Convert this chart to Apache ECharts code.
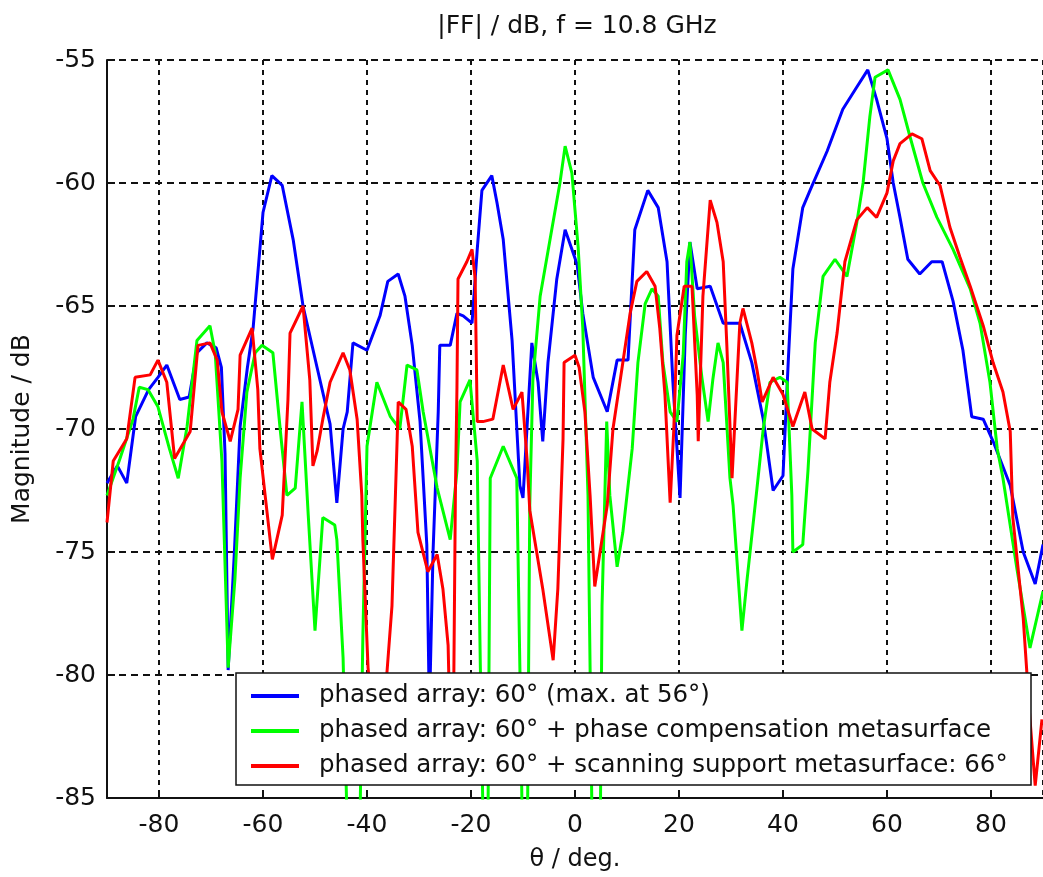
<!DOCTYPE html>
<html>
<head>
<meta charset="utf-8">
<script src="https://cdn.jsdelivr.net/npm/echarts@6/dist/echarts.min.js"></script>
<style>
html,body{margin:0;padding:0;background:#fff;}
#chart{width:1043px;height:877px;}
</style>
</head>
<body>
<div id="chart"></div>
<script>
var titleText = "|FF| / dB, f = 10.8 GHz";
var xName = "θ / deg.";
var yName = "Magnitude / dB";
var seriesNames = [
  "phased array: 60° (max. at 56°)",
  "phased array: 60° + phase compensation metasurface",
  "phased array: 60° + scanning support metasurface: 66°"
];
var yTicks = [-85, -80, -75, -70, -65, -60, -55];

var thetaBlue = [-90,-88,-86.2,-84.5,-82,-80.2,-78.5,-76,-74.2,-72.7,-70.8,-69,-68,-67.3,-66.7,-65.5,-64.4,-63,-61.9,-60,-58.3,-56.3,-54.2,-52.3,-49.6,-47.1,-45.8,-44.6,-43.8,-42.7,-40,-37.5,-36,-34,-32.7,-31.3,-29.8,-28.5,-28,-27.3,-26.3,-26,-24,-22.7,-21.5,-19.8,-18.8,-17.9,-16,-15,-13.8,-12.1,-10.6,-10,-8.3,-7.1,-6.2,-5.2,-3.5,-1.9,0.4,1.5,3.5,6.2,8.1,10.2,11.5,14,16,17.7,18.8,20.2,21.2,22.1,23.5,26,28.5,31.7,34,36.2,38.1,40,41,41.9,43.8,45.2,48.5,51.5,54.2,56.3,58,60,61.2,62.5,64,66.3,68.6,70.6,72.7,74.6,76.3,78.5,80.4,83.7,86.2,88.5,90];
var magBlue = [-72.2,-71.5,-72.2,-69.5,-68.4,-67.9,-67.4,-68.8,-68.7,-66.9,-66.5,-66.7,-67.5,-71,-79.8,-75,-69.9,-67.5,-65.9,-61.2,-59.7,-60.1,-62.3,-65.0,-67.5,-69.8,-73.0,-70,-69.3,-66.5,-66.8,-65.4,-64.0,-63.7,-64.6,-66.6,-69.7,-74.7,-81.5,-75,-69.3,-66.6,-66.6,-65.3,-65.4,-65.7,-62.7,-60.3,-59.7,-60.8,-62.3,-66.4,-72.3,-72.8,-66.5,-68.1,-70.5,-67.3,-63.9,-61.9,-63.3,-65.3,-67.9,-69.3,-67.2,-67.2,-61.9,-60.3,-61.0,-63.2,-68,-72.8,-66.2,-62.4,-64.3,-64.2,-65.7,-65.7,-67.3,-69.6,-72.5,-71.9,-67.3,-63.5,-61,-60.3,-58.7,-57,-56.1,-55.4,-56.6,-58.2,-60,-61.4,-63.1,-63.7,-63.2,-63.2,-64.8,-66.8,-69.5,-69.6,-70.5,-72.3,-75,-76.3,-74.7];

var thetaGreen = [-90,-87.5,-85,-83.8,-82.1,-80.2,-78,-76.3,-74.6,-72.7,-70.2,-69.2,-67.9,-66.7,-65.4,-64.4,-63.1,-61.5,-60.2,-58.1,-56.7,-55.4,-53.8,-52.5,-51.3,-50,-48.5,-46.2,-45.8,-44.6,-43.6,-41.5,-40.8,-40,-38.1,-35.5,-33.7,-32.3,-30.4,-29.2,-26.5,-24,-22.7,-22.1,-20.2,-18.8,-18.2,-17.5,-16.8,-16.3,-13.8,-11.2,-10.6,-10,-9.2,-8.7,-8.1,-6.7,-4.8,-2.9,-1.9,-0.6,0.6,1.5,2.5,2.9,3.4,4.8,5.2,6.1,6.7,8.1,9.2,11,12.1,13.5,14.8,16,16.9,18.3,19.6,20.8,21.5,22.1,23,24.4,25.6,26.5,27.5,28.5,29.8,30.4,32.1,33.1,35,36.2,37.5,39.4,40.8,41.7,41.9,43.8,44.8,46.2,47.7,50,52.3,54.2,55.4,56.7,57.7,60.2,62.5,64.4,66.9,69.6,72.7,76,77.9,79.8,81.2,82.3,85,87.5,90];
var magGreen = [-72.7,-71.2,-69.6,-68.3,-68.4,-69.1,-70.8,-72.0,-69.9,-66.4,-65.8,-66.9,-71.3,-79.7,-76.1,-72,-68.5,-66.9,-66.6,-66.9,-70,-72.7,-72.4,-68.9,-73.5,-78.2,-73.6,-73.9,-74.5,-79.3,-88,-88,-78.5,-70.7,-68.1,-69.5,-70,-67.4,-67.6,-69.3,-72.4,-74.5,-71.7,-68.9,-68,-71.3,-79.7,-88,-88,-72,-70.7,-72,-79.7,-88,-88,-73.1,-68,-64.6,-62.3,-60,-58.5,-59.6,-62.6,-65.9,-72.7,-79.7,-88,-88,-77.2,-69.7,-72.7,-75.6,-74.2,-70.8,-67.3,-64.9,-64.3,-64.6,-67.3,-69.3,-69.7,-67,-63.2,-62.4,-65.4,-67.9,-69.7,-68,-66.5,-67.3,-72,-73.1,-78.2,-76.1,-72.4,-70,-68.1,-67.9,-68.1,-72.7,-75,-74.7,-71.7,-66.5,-63.8,-63.1,-63.8,-61.6,-60,-57.3,-55.7,-55.4,-56.6,-58.1,-60,-61.4,-62.7,-64.3,-65.7,-68.1,-70.8,-72,-75.7,-78.9,-76.6];

var thetaRed = [-90,-88.8,-86.2,-84.6,-81.7,-80.2,-78.5,-77,-74,-72.5,-70.2,-68.8,-67.9,-66.3,-64.8,-64.4,-62.1,-61,-60.6,-58.2,-56.3,-55.2,-54.8,-52.3,-51,-50.4,-49.6,-48.5,-47.1,-44.6,-43.3,-41.9,-41,-40.8,-39.8,-38.5,-36.2,-35.2,-34.2,-34,-32.5,-31.3,-30.2,-28.3,-26.5,-25.4,-24.4,-24,-23.3,-23,-22.7,-22.5,-20.8,-19.8,-19.2,-18.8,-17.7,-15.8,-13.8,-11.9,-10.2,-9.2,-8.7,-6.2,-4.2,-3.3,-2.3,-2.1,0,0.8,1.9,2.9,3.8,6.2,7.3,9.2,10.6,11.9,13.8,15.4,16.3,17.3,18.3,19,19.6,21,22.5,23.5,23.7,24.6,26,27.3,28.5,29.2,30.2,31.7,32.3,34,35,36,38.1,40,41.9,44.2,45.6,48.1,49,50.4,51.9,54.2,56.2,58,60,61.2,62.5,64.8,66.7,68.3,70.2,72.1,74,76,78.5,80.4,82.3,83.7,84.2,86.2,87.5,88.5,89.8];
var magRed = [-73.8,-71.3,-70.4,-67.9,-67.8,-67.2,-68.1,-71.2,-70.1,-66.6,-66.5,-67.2,-69.3,-70.5,-69.2,-67,-65.9,-68.4,-70.8,-75.3,-73.5,-68.8,-66.1,-65,-68,-71.5,-70.9,-69.6,-68.1,-66.9,-67.6,-69.6,-72.7,-74.5,-79.7,-83,-80,-77.2,-70.4,-68.9,-69.2,-70.7,-74.2,-75.8,-75.1,-76.5,-78.8,-82.5,-80,-72.6,-68.3,-63.9,-63.2,-62.7,-63.9,-69.7,-69.7,-69.6,-67.4,-69.2,-68.5,-71.3,-73.3,-76.5,-79.4,-76.5,-70.4,-67.3,-67,-67.5,-69.3,-72.7,-76.4,-73.1,-70,-67.3,-65.3,-64,-63.6,-64.2,-65.9,-68.6,-73,-70,-66.2,-64.2,-64.2,-68.6,-70.5,-64.6,-60.7,-61.6,-63.2,-66.6,-72,-65.7,-65.1,-66.5,-67.6,-68.9,-67.9,-68.6,-69.9,-68.5,-70,-70.4,-68.1,-66.1,-63.2,-61.5,-61,-61.4,-60.4,-59.1,-58.4,-58,-58.2,-59.5,-60.1,-61.8,-63,-64.2,-65.8,-67.3,-68.5,-70.1,-73.6,-77.7,-81.8,-84.5,-81.8];

function pairs(xs, ys) {
  var out = [];
  for (var i = 0; i < xs.length; i++) out.push([xs[i], ys[i]]);
  return out;
}

var colors = ['#0000ff', '#00ff00', '#ff0000'];
var seriesData = [pairs(thetaBlue, magBlue), pairs(thetaGreen, magGreen), pairs(thetaRed, magRed)];

var FONT = 'DejaVu Sans';
var chart = echarts.init(document.getElementById('chart'), null, {renderer: 'canvas'});

var option = {
  backgroundColor: '#ffffff',
  animation: false,
  title: {
    text: titleText,
    left: 572,
    top: 9,
    textAlign: 'center',
    textStyle: {fontFamily: FONT, fontSize: 25, fontWeight: 'normal', color: '#111'}
  },
  grid: {left: 107, top: 60, right: 0, bottom: 77, containLabel: false},
  legend: {
    orient: 'vertical',
    left: 236,
    top: 673,
    z: 20,
    padding: [9, 12, 5, 15],
    itemGap: 7,
    itemWidth: 48,
    itemHeight: 4,
    itemTextGap: 5,
    icon: 'rect',
    backgroundColor: '#ffffff',
    borderColor: '#111',
    borderWidth: 1.5,
    borderRadius: 0,
    data: seriesNames,
    textStyle: {fontFamily: FONT, fontSize: 24.5, color: '#111', lineHeight: 28, width: 700, overflow: 'none', padding: [0, 0, 0, 15]}
  },
  xAxis: {
    type: 'value',
    min: -90,
    max: 90,
    splitNumber: 9,
    name: xName,
    nameLocation: 'middle',
    nameGap: 50,
    nameTextStyle: {fontFamily: FONT, fontSize: 24, color: '#111'},
    axisLine: {show: true, onZero: false, lineStyle: {color: '#111', width: 2}},
    axisTick: {show: true, inside: true, length: 8, lineStyle: {color: '#111', width: 2}},
    axisLabel: {fontFamily: FONT, fontSize: 25, color: '#111', margin: 15, showMinLabel: false, showMaxLabel: false},
    splitLine: {show: true, lineStyle: {color: '#111', width: 2, type: [5, 5]}}
  },
  yAxis: {
    type: 'value',
    min: -85,
    max: -55,
    interval: 5,
    name: yName,
    nameLocation: 'middle',
    nameGap: 72,
    nameRotate: 90,
    nameTextStyle: {fontFamily: FONT, fontSize: 25, color: '#111'},
    axisLine: {show: true, onZero: false, lineStyle: {color: '#111', width: 2}},
    axisTick: {show: true, inside: true, length: 8, lineStyle: {color: '#111', width: 2}},
    axisLabel: {fontFamily: FONT, fontSize: 25, color: '#111', margin: 11,
      formatter: function (v) { return yTicks.indexOf(v) >= 0 ? String(v) : ''; }},
    splitLine: {show: true, lineStyle: {color: '#111', width: 2, type: [7, 5]}}
  },
  series: seriesNames.map(function (n, i) {
    return {
      name: n,
      type: 'line',
      data: seriesData[i],
      showSymbol: false,
      symbol: 'none',
      clip: true,
      z: 3 + i,
      color: colors[i],
      itemStyle: {color: colors[i]},
      lineStyle: {color: colors[i], width: 3},
      emphasis: {disabled: true}
    };
  })
};
chart.setOption(option);
</script>
</body>
</html>
